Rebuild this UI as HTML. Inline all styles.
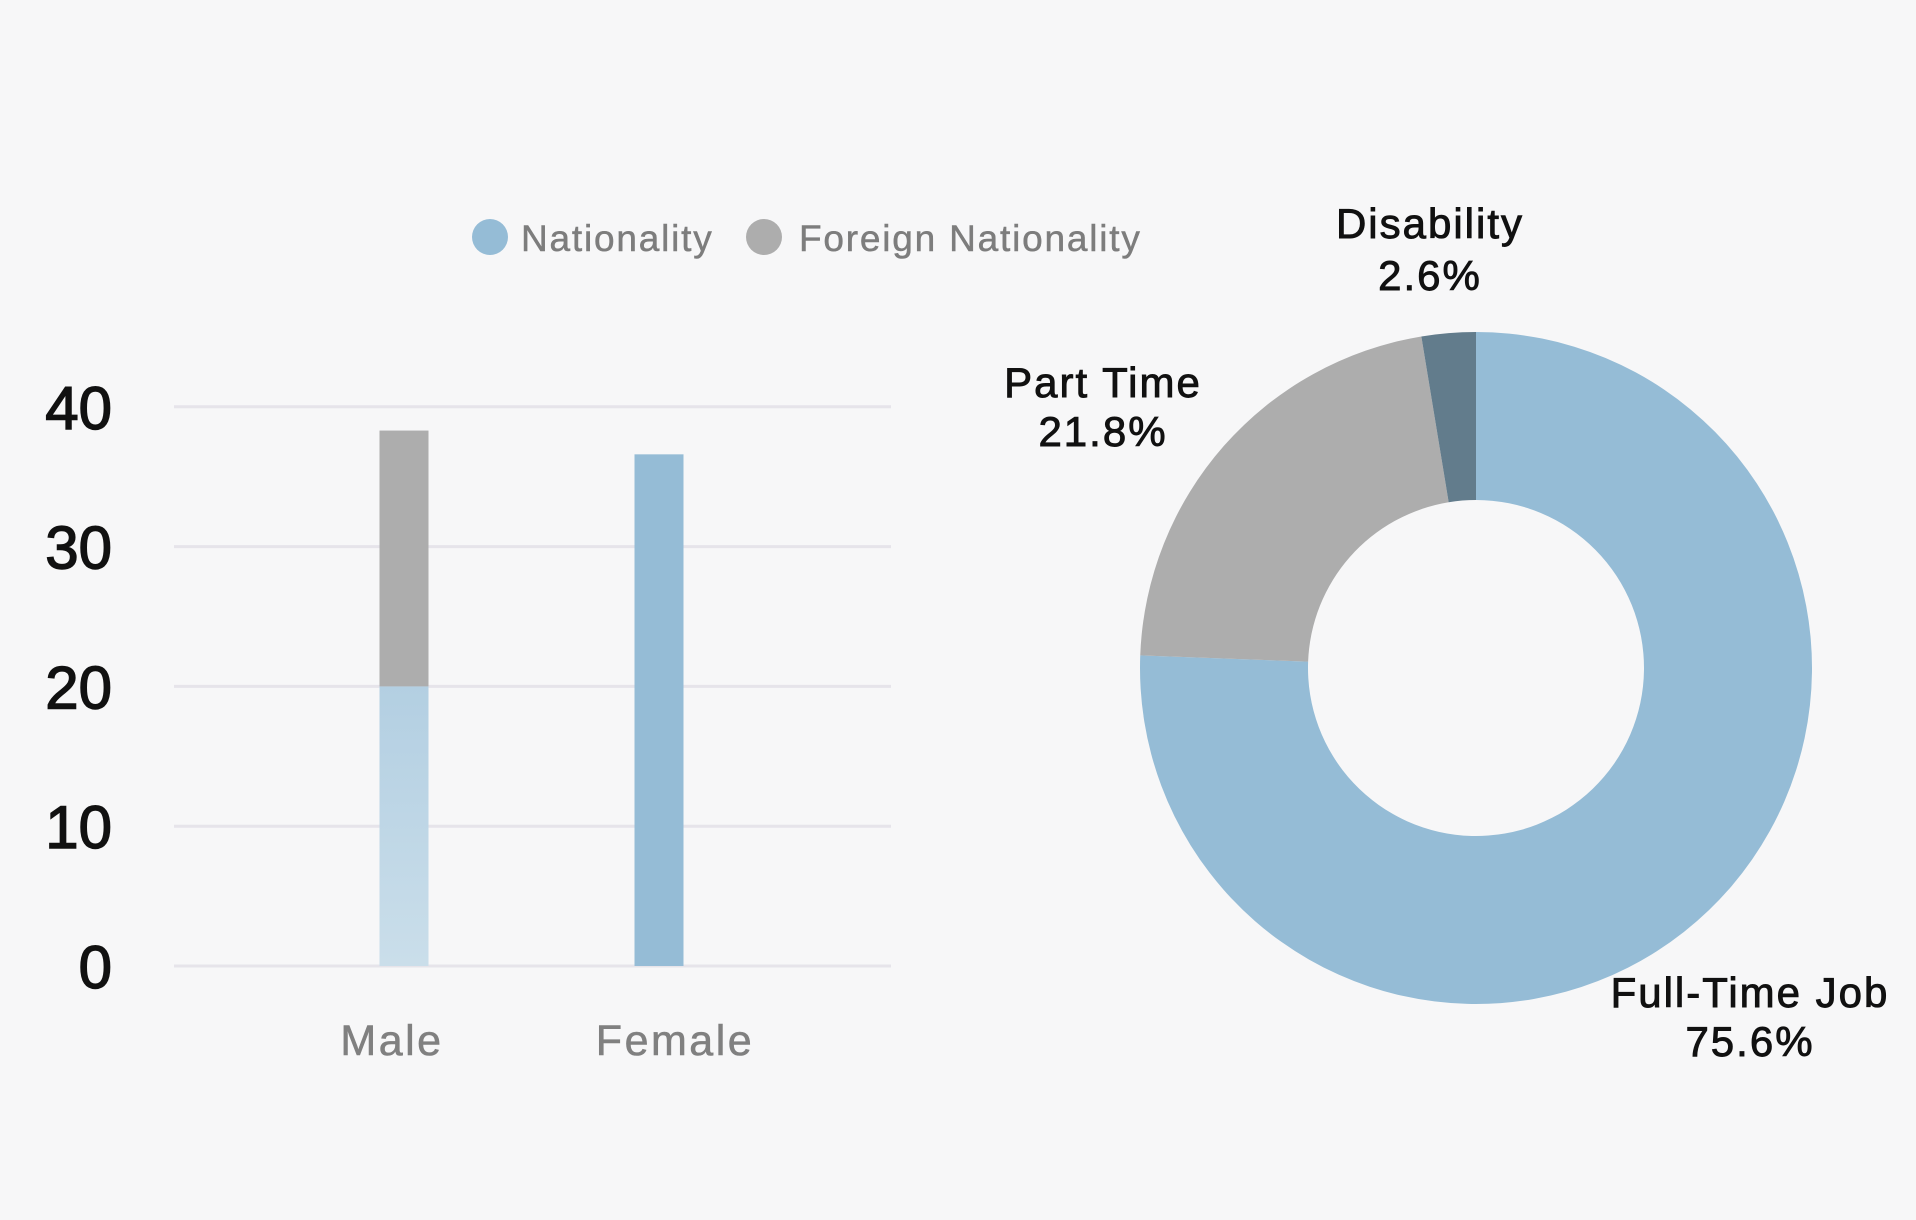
<!DOCTYPE html>
<html><head><meta charset="utf-8"><style>
html,body{margin:0;padding:0;background:#f7f7f8;}
svg{display:block;font-family:"Liberation Sans","Noto Sans CJK JP",sans-serif;}
</style></head><body>
<svg id="chart" width="1916" height="1220" viewBox="0 0 1916 1220">
<defs>
<linearGradient id="maleGrad" x1="0" y1="0" x2="0" y2="1">
<stop offset="0" stop-color="#b3cfe2"/><stop offset="1" stop-color="#cadeea"/>
</linearGradient>
</defs>
<g id="legend">
<g>
<circle cx="490" cy="237" r="18" fill="#95bcd6"/>
<text x="521" y="251" font-size="37" fill="#7d7d7d" letter-spacing="1.8" stroke="#7d7d7d" stroke-width="0.5">Nationality</text>
</g>
<g>
<circle cx="764" cy="237" r="18" fill="#adadad"/>
<text x="799" y="251" font-size="37" fill="#7d7d7d" letter-spacing="1.8" stroke="#7d7d7d" stroke-width="0.5">Foreign Nationality</text>
</g>
</g>
<g id="bars"></g>
<g id="donut"></g>
</svg>
<script>
const categories = ["Male", "Female"];
const nationalityValues = [20, 36.6];
const foreignValues = [18.3, 0];
const yTicks = [0, 10, 20, 30, 40];
const sliceLabels = ["Full-Time Job", "Part Time", "Disability"];
const sliceValues = [75.6, 21.8, 2.6];

const NS = "http://www.w3.org/2000/svg";
function mk(tag, attrs, parent){const e=document.createElementNS(NS,tag);for(const k in attrs)e.setAttribute(k,attrs[k]);parent.appendChild(e);return e;}

// bar chart
const bars = document.getElementById("bars");
const y0 = 966, yPer = 13.98, xL = 174, xR = 891;
const yScale = v => y0 - v * yPer;
const xCenters = [404, 659];
const xScale = i => xCenters[i];
const labelShift = [-12, 16];
const barW = 49;
yTicks.forEach(t => {
  const l = mk("line",{x1:xL,x2:xR,y1:yScale(t),y2:yScale(t),stroke:"#e6e4ea","stroke-width":3},bars);
  
  
  const tx = mk("text",{x:112,y:yScale(t)+22,"text-anchor":"end","font-size":60,fill:"#111",stroke:"#111","stroke-width":1.4},bars);
  tx.textContent = t;
  
  
});
categories.forEach((c,i) => {
  const cx = xScale(i);
  const n = nationalityValues[i], f = foreignValues[i];
  const r1 = mk("rect",{x:cx-barW/2,y:yScale(n),width:barW,height:yScale(0)-yScale(n),fill:i===0?"url(#maleGrad)":"#95bcd6"},bars);
  
  
  if (f > 0) {
    const r2 = mk("rect",{x:cx-barW/2,y:yScale(n+f),width:barW,height:yScale(n)-yScale(n+f),fill:"#adadad"},bars);
    
    
  }
  const lab = mk("text",{x:cx+labelShift[i],y:1055,"text-anchor":"middle","font-size":43,fill:"#808080","letter-spacing":2.5,stroke:"#808080","stroke-width":0.6},bars);
  lab.textContent = c;
  
  
});

// donut
const donut = document.getElementById("donut");
const cx = 1476, cy = 668, R = 336, r = 168;
const colors = ["#95bcd6", "#adadad", "#627c8c"];
const total = sliceValues.reduce((a,b)=>a+b,0);
let start = 0;
function pt(rad, a){return [cx + rad*Math.sin(a), cy - rad*Math.cos(a)];}
sliceValues.forEach((v,i) => {
  const a0 = start/total*2*Math.PI, a1 = (start+v)/total*2*Math.PI;
  start += v;
  const large = (a1-a0) > Math.PI ? 1 : 0;
  const [x0,y0o]=pt(R,a0),[x1,y1o]=pt(R,a1),[x2,y2]=pt(r,a1),[x3,y3]=pt(r,a0);
  const d = `M${x0},${y0o} A${R},${R} 0 ${large} 1 ${x1},${y1o} L${x2},${y2} A${r},${r} 0 ${large} 0 ${x3},${y3} Z`;
  const p = mk("path",{d:d,fill:colors[i]},donut);
  
  
});
const labelPos = [[1750,992,1041],[1103,382,431],[1430,223,275]];
sliceLabels.forEach((s,i) => {
  const [lx,ly1,ly2] = labelPos[i];
  const t1 = mk("text",{x:lx,y:ly1+15,"text-anchor":"middle","font-size":42,fill:"#111","letter-spacing":2,stroke:"#111","stroke-width":0.9},donut);
  t1.textContent = s;
  
  
  const t2 = mk("text",{x:lx,y:ly2+15,"text-anchor":"middle","font-size":42,fill:"#111","letter-spacing":2,stroke:"#111","stroke-width":0.9},donut);
  t2.textContent = sliceValues[i].toFixed(1) + "%";
  
  
});
</script>
</body></html>
